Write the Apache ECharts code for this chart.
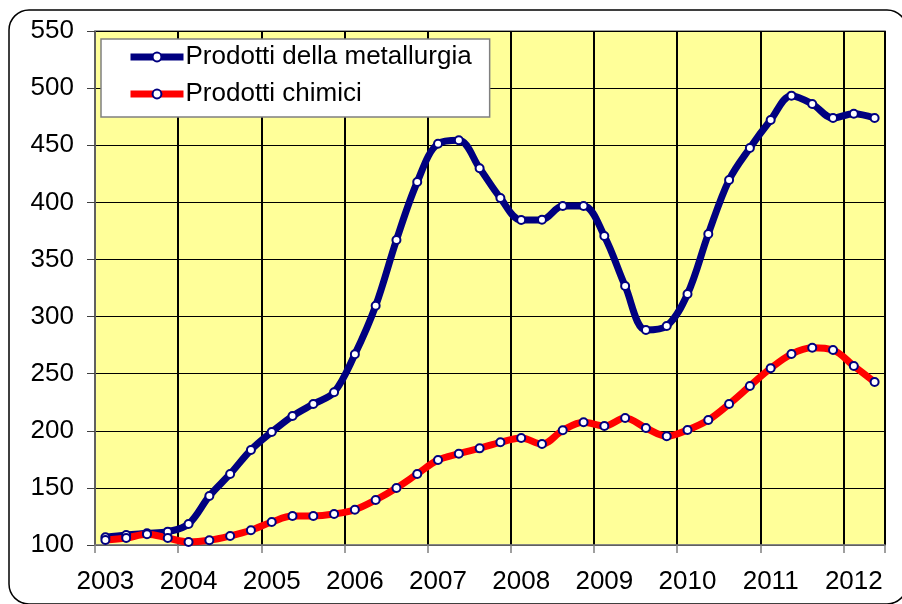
<!DOCTYPE html>
<html><head><meta charset="utf-8">
<script src="https://cdn.jsdelivr.net/npm/echarts@6/dist/echarts.min.js"></script>
<style>html,body{margin:0;padding:0;background:#fff}#c{width:902px;height:604px}</style>
</head><body><div id="c"></div>
<script>
const quarters = [
  '2003 T1','2003 T2','2003 T3','2003 T4',
  '2004 T1','2004 T2','2004 T3','2004 T4',
  '2005 T1','2005 T2','2005 T3','2005 T4',
  '2006 T1','2006 T2','2006 T3','2006 T4',
  '2007 T1','2007 T2','2007 T3','2007 T4',
  '2008 T1','2008 T2','2008 T3','2008 T4',
  '2009 T1','2009 T2','2009 T3','2009 T4',
  '2010 T1','2010 T2','2010 T3','2010 T4',
  '2011 T1','2011 T2','2011 T3','2011 T4',
  '2012 T1','2012 T2'
];
const metallurgia = [
  106.7, 108.8, 110.2, 111.7,
  118.4, 142.9, 162.2, 183.2,
  198.9, 212.9, 223.4, 233.7,
  267.0, 309.5, 367.0, 417.8,
  451.3, 454.3, 429.8, 403.8,
  384.5, 384.8, 396.8, 396.8,
  370.5, 326.8, 288.3, 291.8,
  319.7, 372.3, 419.6, 447.6,
  472.1, 493.4, 486.1, 473.8,
  477.6, 473.8
];
const chimici = [
  104.4, 106.1, 109.4, 106.1,
  102.6, 104.1, 107.9, 112.9,
  120.1, 125.4, 125.4, 127.1,
  130.9, 139.4, 149.9, 162.2,
  174.4, 179.9, 184.6, 189.9,
  193.7, 188.4, 200.4, 207.4,
  204.2, 211.2, 202.4, 195.2,
  200.7, 209.4, 223.4, 239.2,
  254.7, 267.2, 272.7, 270.7,
  256.7, 242.7
];
const seriesNames = ['Prodotti della metallurgia', 'Prodotti chimici'];
const yTicks = { min: 100, max: 550, step: 50 };

const FONT = '"Liberation Sans", Arial, sans-serif';
const chart = echarts.init(document.getElementById('c'), null, { renderer: 'canvas' });

function lineSeries(name, data, color) {
  return {
    name: name,
    type: 'line',
    data: data,
    smooth: 0.35,
    symbol: 'circle',
    symbolSize: 8,
    showSymbol: true,
    itemStyle: { color: '#ffffff', borderColor: '#000080', borderWidth: 2 },
    lineStyle: { color: color, width: 7 },
    emphasis: { disabled: true },
    animation: false
  };
}

chart.setOption({
  backgroundColor: 'transparent',
  animation: false,
  graphic: [
    {
      type: 'rect', z: -10, silent: true,
      shape: { x: 9, y: 10, width: 898, height: 594, r: 20 },
      style: { fill: '#ffffff', stroke: '#000000', lineWidth: 1.5 }
    }
  ],
  grid: {
    left: 95, top: 31, right: 17, bottom: 59,
    show: true, backgroundColor: '#FFFF99', borderColor: '#808080', borderWidth: 1.5
  },
  legend: {
    orient: 'vertical',
    left: 101, top: 39,
    padding: [3, 18, 8, 26],
    itemGap: 7,
    itemWidth: 53,
    itemHeight: 11,
    backgroundColor: '#ffffff',
    borderColor: '#808080',
    borderWidth: 1.5,
    borderRadius: 0,
    lineStyle: { width: 7 },
    itemStyle: { color: '#ffffff', borderColor: '#000080', borderWidth: 2 },
    textStyle: { fontFamily: FONT, fontSize: 26, color: '#000', lineHeight: 30, padding: [0, 0, 0, -3] },
    data: seriesNames
  },
  xAxis: {
    type: 'category',
    data: quarters,
    boundaryGap: true,
    axisLine: { show: true, lineStyle: { color: '#808080', width: 1.5 } },
    axisTick: { show: true, interval: 3, length: 8, lineStyle: { color: '#808080', width: 1.5 } },
    axisLabel: {
      interval: 3, margin: 24,
      fontFamily: FONT, fontSize: 26, color: '#000',
      formatter: v => v.slice(0, 4)
    },
    splitLine: { show: true, interval: 3, lineStyle: { color: '#000000', width: 2 } }
  },
  yAxis: {
    type: 'value',
    min: yTicks.min, max: yTicks.max, interval: yTicks.step,
    axisLine: { show: true, lineStyle: { color: '#808080', width: 1.5 } },
    axisTick: { show: true, length: 8, lineStyle: { color: '#404040', width: 1 } },
    axisLabel: { margin: 21, fontFamily: FONT, fontSize: 26, color: '#000' },
    splitLine: { show: true, lineStyle: { color: '#000000', width: 1 } }
  },
  series: [
    lineSeries(seriesNames[0], metallurgia, '#000080'),
    lineSeries(seriesNames[1], chimici, '#FF0000')
  ]
});
</script>
</body></html>
